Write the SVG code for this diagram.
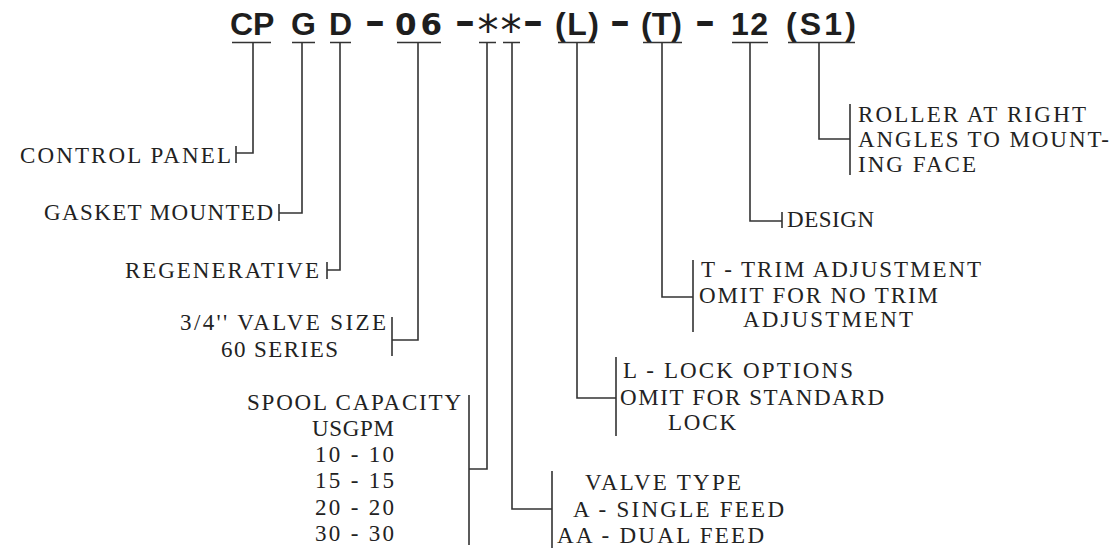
<svg xmlns="http://www.w3.org/2000/svg" width="1111" height="548" viewBox="0 0 1111 548">
<style>
.code{font-family:"Liberation Sans",Arial,sans-serif;font-weight:bold;font-size:32px;fill:#1e1e1e}
.wide{font-family:"DejaVu Sans","Liberation Sans",sans-serif;font-weight:bold;font-size:31px;fill:#1e1e1e}
.dash{font-family:"DejaVu Sans","Liberation Sans",sans-serif;font-weight:bold;font-size:36px;fill:#1e1e1e}
.ast{font-family:"DejaVu Sans","Liberation Sans",sans-serif;font-size:42px;fill:#1e1e1e;text-anchor:middle}
.lbl{font-family:"Liberation Serif","Times New Roman",serif;font-size:23px;fill:#222}
.ln{fill:none;stroke:#333;stroke-width:1.6}
</style>
<rect width="1111" height="548" fill="#fff"/>
<g id="code">
<text class="code" x="230" y="35">CP</text>
<text class="code" x="291" y="35">G</text>
<text class="code" x="329" y="35">D</text>
<text class="dash" x="364.5" y="34" textLength="21" lengthAdjust="spacingAndGlyphs">-</text>
<text class="wide" x="395" y="35" textLength="47" lengthAdjust="spacing">06</text>
<text class="dash" x="454.5" y="34" textLength="21" lengthAdjust="spacingAndGlyphs">-</text>
<text class="ast" x="488" y="45">*</text>
<text class="ast" x="511" y="45">*</text>
<text class="dash" x="522.5" y="34" textLength="21" lengthAdjust="spacingAndGlyphs">-</text>
<text class="code" x="555" y="35" textLength="44" lengthAdjust="spacing">(L)</text>
<text class="dash" x="609.5" y="34" textLength="21" lengthAdjust="spacingAndGlyphs">-</text>
<text class="code" x="641" y="35" textLength="41" lengthAdjust="spacing">(T)</text>
<text class="dash" x="694.5" y="34" textLength="21" lengthAdjust="spacingAndGlyphs">-</text>
<text class="code" x="731" y="35" textLength="37" lengthAdjust="spacing">12</text>
<text class="code" x="786" y="35" textLength="70" lengthAdjust="spacing">(S1)</text>
</g>
<g id="connectors">
<path class="ln" d="M232 42.5H271M292 42.5H315M330 42.5H351M397 42.5H441M479 42.5H496M503 42.5H520M558 42.5H595M643 42.5H682M732 42.5H768M788 42.5H855"/>
<path class="ln" d="M253 42.5V153H236M236 146V163"/>
<path class="ln" d="M302 42.5V213H279M279 204V221"/>
<path class="ln" d="M340 42.5V270H327M327 262V279"/>
<path class="ln" d="M418 42.5V340H392M392 317V356"/>
<path class="ln" d="M487 42.5V469H469M469 395V545"/>
<path class="ln" d="M512 42.5V509H552M552 471V548"/>
<path class="ln" d="M577 42.5V398H616M616 357V436"/>
<path class="ln" d="M662 42.5V297H693M693 260V332"/>
<path class="ln" d="M750 42.5V221H782M782 212V228"/>
<path class="ln" d="M819 42.5V139H850M850 104V175"/>
</g>
<g id="control-panel"><text class="lbl" x="20" y="163" textLength="211" lengthAdjust="spacing">CONTROL PANEL</text></g>
<g id="gasket-mounted"><text class="lbl" x="44" y="220" textLength="229" lengthAdjust="spacing">GASKET MOUNTED</text></g>
<g id="regenerative"><text class="lbl" x="125" y="278" textLength="194" lengthAdjust="spacing">REGENERATIVE</text></g>
<g id="valve-size">
<text class="lbl" x="180" y="330" textLength="206" lengthAdjust="spacing">3/4'' VALVE SIZE</text>
<text class="lbl" x="221" y="357" textLength="117" lengthAdjust="spacing">60 SERIES</text>
</g>
<g id="spool-capacity">
<text class="lbl" x="247" y="410" textLength="214" lengthAdjust="spacing">SPOOL CAPACITY</text>
<text class="lbl" x="312" y="436" textLength="82" lengthAdjust="spacing">USGPM</text>
<text class="lbl" x="315" y="462" textLength="79" lengthAdjust="spacing">10 - 10</text>
<text class="lbl" x="315" y="488" textLength="79" lengthAdjust="spacing">15 - 15</text>
<text class="lbl" x="315" y="515" textLength="79" lengthAdjust="spacing">20 - 20</text>
<text class="lbl" x="315" y="541" textLength="79" lengthAdjust="spacing">30 - 30</text>
</g>
<g id="valve-type">
<text class="lbl" x="585" y="490" textLength="156" lengthAdjust="spacing">VALVE TYPE</text>
<text class="lbl" x="573" y="517" textLength="211" lengthAdjust="spacing">A - SINGLE FEED</text>
<text class="lbl" x="557" y="543" textLength="207" lengthAdjust="spacing">AA - DUAL FEED</text>
</g>
<g id="lock-options">
<text class="lbl" x="623" y="378" textLength="230" lengthAdjust="spacing">L - LOCK OPTIONS</text>
<text class="lbl" x="620" y="405" textLength="264" lengthAdjust="spacing">OMIT FOR STANDARD</text>
<text class="lbl" x="668" y="430" textLength="68" lengthAdjust="spacing">LOCK</text>
</g>
<g id="trim-adjustment">
<text class="lbl" x="701" y="277" textLength="280" lengthAdjust="spacing">T - TRIM ADJUSTMENT</text>
<text class="lbl" x="699" y="303" textLength="239" lengthAdjust="spacing">OMIT FOR NO TRIM</text>
<text class="lbl" x="743" y="327" textLength="170" lengthAdjust="spacing">ADJUSTMENT</text>
</g>
<g id="design"><text class="lbl" x="787" y="227" textLength="87" lengthAdjust="spacing">DESIGN</text></g>
<g id="roller">
<text class="lbl" x="858" y="122" textLength="228" lengthAdjust="spacing">ROLLER AT RIGHT</text>
<text class="lbl" x="858" y="147" textLength="251" lengthAdjust="spacing">ANGLES TO MOUNT-</text>
<text class="lbl" x="858" y="172" textLength="118" lengthAdjust="spacing">ING FACE</text>
</g>
</svg>
